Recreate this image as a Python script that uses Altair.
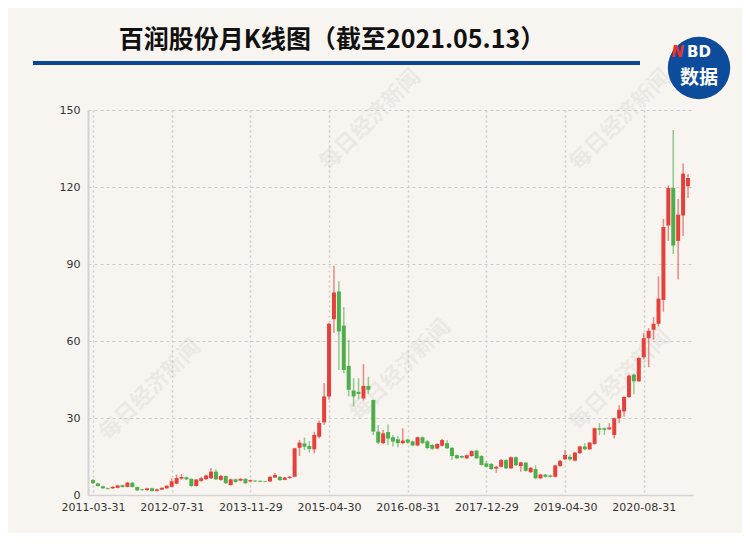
import altair as alt
import pandas as pd

# Monthly K-line data (index 0 = 2011-03 ... 121 = 2021-05)
open_ = [5.8, 4.5, 3.4, 2.6, 2.6, 2.8, 3.8, 3.2, 4.8, 3.1,
         2.2, 1.9, 2.6, 1.6, 2.1, 2.6, 3.2, 4.4, 6.4, 6.9,
         6.3, 3.5, 5.5, 6.2, 6.5, 9.1, 5.9, 7.4, 3.9, 6.1,
         5.6, 6.3, 5.3, 5.6, 5.5, 5.4, 5.3, 6.8, 7.1, 5.9,
         6.6, 7.1, 18.4, 20.1, 19.1, 17.8, 22.7, 28.3, 38.4, 68.5,
         79.3, 66.0, 50.3, 40.7, 40.2, 37.6, 42.5, 37.0, 24.7, 20.2,
         24.5, 22.5, 21.7, 20.2, 21.6, 20.9, 19.3, 22.5, 20.9, 19.5,
         18.1, 19.2, 20.2, 18.4, 15.5, 15.2, 14.3, 15.2, 17.3, 15.2,
         12.3, 12.1, 10.3, 11.0, 13.6, 10.4, 14.7, 11.3, 12.6, 8.9,
         10.1, 6.5, 7.9, 7.6, 7.1, 11.3, 13.9, 14.9, 13.4, 16.3,
         18.9, 17.8, 19.9, 26.0, 26.0, 25.6, 23.4, 29.9, 32.6, 38.2,
         46.9, 44.3, 53.7, 61.1, 64.4, 66.7, 76.0, 105.0, 119.6, 99.0,
         108.9, 120.3]
close_ = [4.6, 3.5, 2.6, 2.3, 3.2, 3.7, 3.1, 4.8, 3.1, 1.8,
          1.9, 2.6, 1.6, 2.2, 2.8, 3.6, 5.3, 6.6, 7.0, 6.1,
          3.5, 6.0, 6.5, 7.6, 9.1, 6.1, 7.4, 4.6, 6.1, 5.1,
          6.3, 4.6, 5.8, 5.3, 5.2, 5.2, 7.1, 7.8, 5.8, 6.8,
          7.1, 18.2, 20.4, 18.8, 17.9, 23.4, 28.1, 38.4, 66.7, 78.9,
          63.7, 48.7, 41.0, 38.4, 39.4, 42.5, 41.0, 24.7, 20.4, 24.0,
          22.0, 20.8, 20.2, 21.2, 20.4, 19.3, 22.5, 20.2, 18.3, 18.0,
          19.9, 21.4, 18.2, 15.2, 14.3, 14.6, 15.5, 17.1, 14.3, 11.7,
          11.0, 10.1, 11.0, 13.6, 10.4, 14.7, 11.6, 12.7, 9.4, 10.6,
          6.5, 8.0, 7.1, 7.1, 11.5, 13.3, 15.6, 13.9, 16.5, 18.9,
          17.8, 20.4, 26.0, 25.4, 25.4, 26.3, 29.9, 33.2, 38.2, 46.5,
          44.3, 53.4, 61.1, 64.0, 66.7, 76.5, 104.4, 119.6, 97.2, 109.2,
          125.2, 123.5]
high_ = [6.2, 4.8, 3.6, 2.8, 3.4, 4.0, 4.0, 5.1, 5.0, 3.3,
         2.4, 2.8, 2.8, 2.4, 3.0, 3.8, 6.5, 8.0, 8.2, 7.2,
         6.5, 6.3, 7.0, 8.0, 10.4, 10.0, 7.8, 7.6, 6.4, 6.4,
         6.6, 6.5, 6.0, 5.8, 5.7, 5.6, 7.3, 8.6, 7.3, 7.0,
         7.3, 18.4, 21.4, 22.4, 21.0, 24.6, 29.0, 43.6, 67.0, 89.3,
         83.3, 73.2, 60.5, 45.5, 45.5, 51.0, 46.1, 37.2, 27.3, 25.3,
         27.6, 23.4, 23.1, 26.0, 22.0, 21.2, 22.8, 22.8, 21.4, 19.8,
         20.1, 21.9, 21.4, 18.6, 15.8, 15.4, 15.8, 17.4, 17.6, 15.5,
         13.2, 12.4, 11.3, 13.9, 13.9, 15.0, 15.0, 13.0, 12.9, 10.9,
         11.6, 8.3, 8.2, 7.9, 11.8, 13.6, 17.5, 15.8, 16.8, 19.2,
         20.2, 20.7, 26.3, 28.0, 26.3, 28.0, 30.2, 35.0, 38.5, 46.9,
         47.3, 53.8, 63.1, 65.0, 69.3, 85.2, 107.6, 120.6, 142.2, 115.3,
         129.2, 125.2]
low_ = [4.3, 3.2, 2.4, 2.1, 2.4, 2.6, 2.9, 3.0, 2.9, 1.6,
        1.7, 1.7, 1.4, 1.4, 1.9, 2.4, 3.0, 4.2, 6.0, 5.8,
        3.2, 3.3, 5.2, 5.8, 6.2, 5.8, 5.6, 4.3, 3.6, 4.8,
        5.3, 4.3, 5.0, 5.1, 5.0, 5.0, 5.1, 6.6, 5.6, 5.7,
        6.4, 7.0, 15.2, 17.5, 16.5, 16.2, 22.0, 27.3, 37.1, 63.1,
        48.7, 47.4, 38.4, 34.4, 37.3, 36.8, 39.4, 23.4, 19.9, 19.8,
        19.5, 18.9, 18.6, 19.8, 20.0, 19.0, 19.0, 19.9, 17.8, 17.6,
        17.8, 18.9, 17.9, 13.6, 14.0, 14.3, 14.0, 14.9, 14.0, 11.4,
        10.7, 9.8, 8.7, 10.7, 10.1, 10.1, 11.3, 9.1, 9.1, 8.6,
        6.2, 6.2, 6.8, 6.8, 6.8, 11.0, 13.6, 13.3, 13.1, 16.0,
        17.5, 17.5, 19.6, 23.4, 23.4, 25.3, 22.0, 28.0, 30.5, 37.8,
        39.3, 44.0, 52.8, 49.8, 60.5, 65.6, 71.4, 99.0, 93.9, 84.0,
        100.9, 115.7]

tick_idx = [0, 16, 32, 48, 64, 80, 96, 112]
tick_labels = ["2011-03-31", "2012-07-31", "2013-11-29", "2015-04-30",
               "2016-08-31", "2017-12-29", "2019-04-30", "2020-08-31"]
y_ticks = [0, 30, 60, 90, 120, 150]

title_text = "百润股份月K线图（截至2021.05.13）"
watermark = "每日经济新闻"

df = pd.DataFrame({
    "i": list(range(len(open_))),
    "open": open_, "close": close_, "high": high_, "low": low_,
})
df["dir"] = ["up" if c >= o else "down" for o, c in zip(df["open"], df["close"])]

RED = "#e5403a"
GREEN = "#4fae4c"
color = alt.Color("dir:N", scale=alt.Scale(domain=["up", "down"], range=[RED, GREEN]), legend=None)

lbl_arr = "[" + ",".join("'" + t + "'" for t in tick_labels) + "]"
x_axis = alt.Axis(values=tick_idx, labelExpr=lbl_arr + "[round(datum.value/16)]", title=None,
                  grid=True, gridDash=[2, 3], gridColor="#cccccc", gridWidth=1.5,
                  ticks=False, domainColor="#d3d3d3", domainWidth=1.5,
                  labelColor="#333333", labelFontSize=11, labelFont="DejaVu Sans",
                  labelPadding=6, labelOverlap=False)
y_axis = alt.Axis(values=y_ticks, title=None, grid=True, gridDash=[3, 3], gridColor="#cccccc",
                  ticks=False, domainColor="#d3d3d3", domainWidth=2,
                  labelColor="#333333", labelFontSize=11, labelFont="DejaVu Sans", labelPadding=8)
x_enc = alt.X("i:Q", scale=alt.Scale(domain=[0, 121], nice=False, zero=False), axis=x_axis)
y_scale = alt.Scale(domain=[0, 150], nice=False)

base = alt.Chart(df)
wick = base.mark_rule(strokeWidth=1.5, opacity=0.6).encode(
    x=x_enc, y=alt.Y("low:Q", scale=y_scale, axis=y_axis), y2="high:Q", color=color)
body = base.mark_bar(width=4, opacity=1).encode(
    x=x_enc, y=alt.Y("open:Q", scale=y_scale, axis=y_axis), y2="close:Q", color=color)

one = pd.DataFrame({"k": [0]})
deco = alt.Chart(one)

# plot origin on page: left 88, top 110
wm_pos = [(150, 390), (370, 120), (400, 370), (620, 120), (620, 380)]
wm_layers = [
    deco.mark_text(text=watermark, angle=315, fontSize=22, font="Noto Sans CJK SC", fontWeight="bold",
                   color="#888888", opacity=0.1, align="center", baseline="middle")
    .encode(x=alt.value(px - 88), y=alt.value(py - 110))
    for px, py in wm_pos
]

title = deco.mark_text(text=title_text, fontSize=25, fontWeight="bold", font="Noto Sans CJK SC",
                       color="#111111", align="center", baseline="middle").encode(
    x=alt.value(332 - 88), y=alt.value(40 - 110))
underline = deco.mark_rule(color="#0b4596", strokeWidth=4).encode(
    x=alt.value(33 - 88), x2=alt.value(640 - 88), y=alt.value(63 - 110))
logo = deco.mark_point(filled=True, shape="circle", size=3900, color="#0d4b9b", opacity=1).encode(
    x=alt.value(699 - 88), y=alt.value(68 - 110))
logo_n = deco.mark_text(text="N", fontSize=15, fontWeight="bold", fontStyle="italic", font="DejaVu Sans",
                        color="#e8322d", align="right", baseline="middle").encode(
    x=alt.value(684 - 88), y=alt.value(52 - 110))
logo_bd = deco.mark_text(text="BD", fontSize=15, fontWeight="bold", font="DejaVu Sans",
                         color="white", align="left", baseline="middle").encode(
    x=alt.value(687 - 88), y=alt.value(52 - 110))
logo_cn = deco.mark_text(text="数据", fontSize=19, fontWeight="bold", font="Noto Sans CJK SC",
                         color="white", align="center", baseline="middle").encode(
    x=alt.value(699 - 88), y=alt.value(78 - 110))

chart = alt.layer(*wm_layers, wick, body, title, underline, logo, logo_n, logo_bd, logo_cn).properties(
    width=605, height=385,
    padding={"left": 80, "top": 102, "right": 49, "bottom": 38},
    autosize=alt.AutoSizeParams(type="none"),
    background="#f8f5f0",
).configure_view(stroke=None)

chart.save("out.html", embed_options={"renderer": "svg", "actions": False})
